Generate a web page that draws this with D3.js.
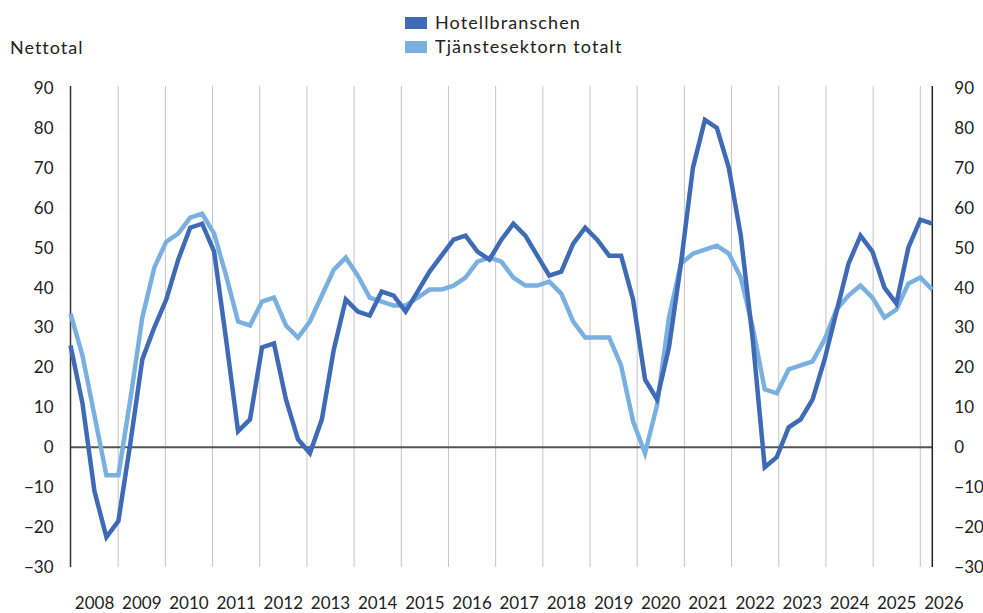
<!DOCTYPE html>
<html>
<head>
<meta charset="utf-8">
<script src="https://cdn.jsdelivr.net/npm/d3@7"></script>
<style>
    body { margin: 0; background: #fff; }
    text { font-family: Lato, "Noto Sans", sans-serif; fill: #222; }
</style>
</head>
<body>
<div id="chart"></div>
<script>
// quarterly values, 2008 Q1 onwards
const hotell = [25.5, 11, -11, -22.5, -18.5, 1, 22, 30, 37, 47, 55, 56, 49, 27, 4, 7,
    25, 26, 12, 2, -1.5, 7, 24.5, 37, 34, 33, 39, 38, 34, 39, 44, 48,
    52, 53, 49, 47, 52, 56, 53, 48, 43, 44, 51, 55, 52, 48, 48, 37,
    17, 12, 25, 46, 70, 82, 80, 70, 53, 27, -5, -2.5, 5, 7, 12, 22,
    34, 46, 53, 49, 40, 36, 50, 57, 56];
const tjanste = [33.5, 23, 8, -7, -7, 12, 32.5, 45, 51.5, 53.5, 57.5, 58.5, 53.5, 43, 31.5, 30.5,
    36.5, 37.5, 30.5, 27.5, 31.5, 38, 44.5, 47.5, 43, 37.5, 36.5, 35.5, 35.5, 37.5, 39.5, 39.5,
    40.5, 42.5, 46.5, 47.5, 46.5, 42.5, 40.5, 40.5, 41.5, 38.5, 31.5, 27.5, 27.5, 27.5, 20.5, 6.5,
    -1.5, 10.5, 32.5, 46, 48.5, 49.5, 50.5, 48.5, 42.5, 30, 14.5, 13.5, 19.5, 20.5, 21.5, 27,
    34.5, 38, 40.5, 37.5, 32.5, 34.5, 41, 42.5, 39.5];
const years = d3.range(2008, 2027);
const yTicks = d3.range(-30, 100, 10);
const seriesNames = ["Hotellbranschen", "Tjänstesektorn totalt"];
const seriesColors = ["#3f6ab5", "#7ab0e0"];

function drawChart() {
    const w = 983;
    const h = 613;
    const left = 70.5;
    const right = 932.3;
    const top = 88;
    const bottom = 567;

    const svg = d3.select("#chart")
        .append("svg")
        .attr("width", w)
        .attr("height", h);

    const xScale = d3.scaleLinear()
        .domain([0, hotell.length - 1])
        .range([left, right]);

    // year bands do not line up exactly with the quarters in the original
    const yearScale = d3.scaleLinear()
        .domain([2008, 2026])
        .range([71, 920.3]);

    const yScale = d3.scaleLinear()
        .domain([-30, 90])
        .range([bottom, top]);

    // vertical year gridlines
    svg.append("g")
        .selectAll("line")
        .data(years.slice(1))
        .enter()
        .append("line")
        .attr("x1", d => yearScale(d))
        .attr("x2", d => yearScale(d))
        .attr("y1", top - 2)
        .attr("y2", bottom)
        .attr("stroke", "#c4c4c8")
        .attr("stroke-width", 1);

    // year labels centred in each year
    svg.append("g")
        .selectAll("text")
        .data(years)
        .enter()
        .append("text")
        .attr("x", d => yearScale(d + 0.5))
        .attr("y", 603)
        .attr("dy", "0.35em")
        .attr("text-anchor", "middle")
        .style("font-size", "17px")
        .text(d => d);

    // zero line
    svg.append("line")
        .attr("x1", left)
        .attr("x2", right)
        .attr("y1", yScale(0))
        .attr("y2", yScale(0))
        .attr("stroke", "#555")
        .attr("stroke-width", 1.8);

    // left and right axes
    const yAxisLeft = d3.axisLeft(yScale).tickValues(yTicks).tickSize(0).tickPadding(17);
    const yAxisRight = d3.axisRight(yScale).tickValues(yTicks).tickSize(0).tickPadding(22);

    const gl = svg.append("g")
        .attr("transform", "translate(" + left + ",0)")
        .call(yAxisLeft);
    const gr = svg.append("g")
        .attr("transform", "translate(" + right + ",0)")
        .call(yAxisRight);

    [gl, gr].forEach(function (g) {
        g.select(".domain").remove();
        g.selectAll("text")
            .style("font-size", "17px")
            .style("font-family", "Lato, 'Noto Sans', sans-serif")
            .attr("fill", "#222");
    });

    svg.append("line")
        .attr("x1", left).attr("x2", left)
        .attr("y1", top - 2).attr("y2", bottom)
        .attr("stroke", "#333").attr("stroke-width", 1.5);
    svg.append("line")
        .attr("x1", right).attr("x2", right)
        .attr("y1", top - 2).attr("y2", bottom)
        .attr("stroke", "#222").attr("stroke-width", 1.5);

    // lines
    const line = d3.line()
        .x((d, i) => xScale(i))
        .y(d => yScale(d));

    svg.append("path")
        .datum(tjanste)
        .attr("fill", "none")
        .attr("stroke", seriesColors[1])
        .attr("stroke-width", 4.5)
        .attr("stroke-linejoin", "miter")
        .attr("d", line);

    svg.append("path")
        .datum(hotell)
        .attr("fill", "none")
        .attr("stroke", seriesColors[0])
        .attr("stroke-width", 4.5)
        .attr("stroke-linejoin", "miter")
        .attr("d", line);

    // legend
    const legend = svg.append("g")
        .selectAll("g")
        .data(seriesNames)
        .enter()
        .append("g")
        .attr("transform", (d, i) => "translate(405," + (23 + i * 24) + ")");

    legend.append("rect")
        .attr("x", 0)
        .attr("y", -6)
        .attr("width", 22)
        .attr("height", 12)
        .attr("fill", (d, i) => seriesColors[i]);

    legend.append("text")
        .attr("x", 30)
        .attr("y", 0)
        .attr("dy", "0.35em")
        .style("font-size", "18px")
        .style("letter-spacing", "1.1px")
        .text(d => d);

    // unit label
    svg.append("text")
        .attr("x", 10)
        .attr("y", 48)
        .attr("dy", "0.35em")
        .style("font-size", "18px")
        .style("letter-spacing", "1px")
        .text("Nettotal");
}

drawChart();
</script>
</body>
</html>
